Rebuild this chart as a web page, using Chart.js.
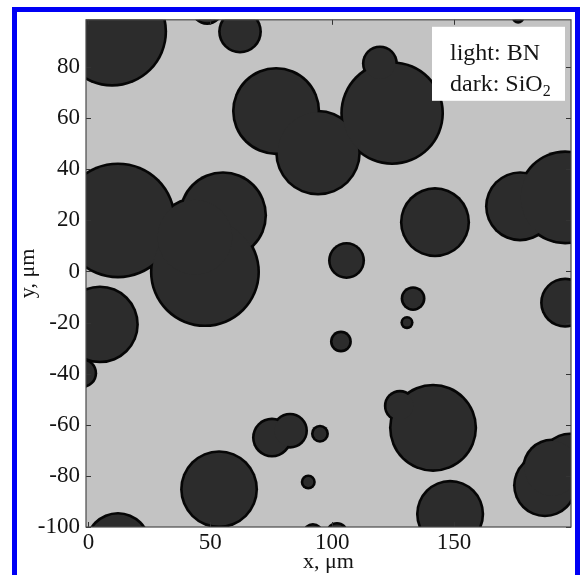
<!DOCTYPE html>
<html>
<head>
<meta charset="utf-8">
<script src="https://cdn.jsdelivr.net/npm/chart.js@4.4.1/dist/chart.umd.min.js"></script>
<style>
  html, body { margin: 0; padding: 0; background: #ffffff; overflow: hidden; }
  #frame { position: absolute; left: 12px; top: 7px; width: 558px; height: 640px; border: 5px solid #0000f5; }
  #wrap { position: absolute; left: 0; top: 0; width: 580px; height: 575px; }
</style>
</head>
<body>
<div id="frame"></div>
<div id="wrap"><canvas id="c" width="580" height="575"></canvas></div>
<script>
// SiO2 grains: centre x (μm), centre y (μm), radius (μm)
const grainX = [9.7, 62.2, 48.7, 77.0, 94.2, 124.6, 119.6, 12.1, 55.2, 47.8, 43.7, 4.7, -2.6, 12.1, 53.6,
                75.3, 82.7, 95.0, 90.2, 92.1, 102.0, 103.6, 105.9, 133.2, 130.7, 142.2, 177.1, 195.6, 195.6,
                141.4, 127.8, 148.4, 187.3, 197.6, 190.2, 176.3];
const grainY = [93.9, 93.9, 102.8, 62.8, 46.5, 62.0, 81.4, 20.0, 22.0, -0.2, 13.4, -20.7, -39.8, -107.0, -85.2,
                -65.0, -62.3, -63.5, -82.4, -102.3, -102.3, -27.4, 4.3, -10.6, -20.0, 19.3, 25.5, 29.0, -12.2,
                -61.2, -52.6, -94.9, -83.7, -74.7, -77.1, 99.3];
const grainR = [22.6, 9.0, 6.6, 18.1, 17.6, 21.3, 7.4, 23.8, 18.1, 22.6, 16.4, 16.0, 6.2, 13.5, 16.0,
                8.2, 7.4, 3.7, 3.1, 4.1, 4.5, 4.5, 7.6, 5.1, 2.7, 14.4, 14.4, 19.3, 10.3,
                18.1, 6.6, 14.0, 13.1, 12.3, 12.3, 2.5];

const xTicks = [0, 50, 100, 150];
const yTicks = [-100, -80, -60, -40, -20, 0, 20, 40, 60, 80];
const xTitle = 'x, μm';
const yTitle = 'y, μm';
const legendLines = [['light: ', 'BN'], ['dark: ', 'SiO2']];

const BG = '#c3c3c3';
const GRAIN = '#2c2c2c';
const EDGE = '#060606';
const EDGE_W = 2.6;
const SERIF = '"Liberation Serif", "Times New Roman", serif';

// separate point lists for the grain outline layer and the grain body layer
const makeGrains = () => grainX.map((x, i) => ({ x: x, y: grainY[i], r: grainR[i] }));
const edgePoints = makeGrains();
const bodyPoints = makeGrains();

function pxPerUm(chart) {
  const s = chart.scales.x;
  return s.getPixelForValue(1) - s.getPixelForValue(0);
}

// draws a chemical formula with its digits as subscripts
function drawFormula(ctx, text, x, y, size) {
  for (const ch of text) {
    if (/[0-9]/.test(ch)) {
      ctx.font = Math.round(size * 0.68) + 'px ' + SERIF;
      ctx.fillText(ch, x, y + size * 0.22);
    } else {
      ctx.font = size + 'px ' + SERIF;
      ctx.fillText(ch, x, y);
    }
    x += ctx.measureText(ch).width;
  }
  return x;
}

const plotDecor = {
  id: 'plotDecor',
  beforeDatasetsDraw(chart) {
    const { ctx, chartArea: a } = chart;
    ctx.save();
    ctx.fillStyle = BG;
    ctx.fillRect(a.left, a.top, a.right - a.left, a.bottom - a.top);
    ctx.restore();
  },
  afterDatasetsDraw(chart) {
    const { ctx, chartArea: a, scales } = chart;
    ctx.save();
    // phase key
    const bx = a.right - 139, by = a.top + 7, bw = 133, bh = 74;
    ctx.fillStyle = '#ffffff';
    ctx.fillRect(bx, by, bw, bh);
    ctx.fillStyle = '#151515';
    ctx.textBaseline = 'alphabetic';
    const fs = 24;
    legendLines.forEach((parts, i) => {
      let x = bx + 18;
      const y = by + 33 + i * 31;
      ctx.font = fs + 'px ' + SERIF;
      ctx.fillText(parts[0], x, y);
      x += ctx.measureText(parts[0]).width;
      drawFormula(ctx, parts[1], x, y, fs);
    });
    // inward tick marks on all four sides
    ctx.strokeStyle = '#333333';
    ctx.lineWidth = 1;
    const tl = 5;
    ctx.beginPath();
    scales.x.ticks.forEach(t => {
      const px = Math.round(scales.x.getPixelForValue(t.value)) + 0.5;
      ctx.moveTo(px, a.bottom); ctx.lineTo(px, a.bottom - tl);
      ctx.moveTo(px, a.top); ctx.lineTo(px, a.top + tl);
    });
    scales.y.ticks.forEach(t => {
      const py = Math.round(scales.y.getPixelForValue(t.value)) + 0.5;
      ctx.moveTo(a.left, py); ctx.lineTo(a.left + tl, py);
      ctx.moveTo(a.right, py); ctx.lineTo(a.right - tl, py);
    });
    ctx.stroke();
    // plot frame
    ctx.strokeStyle = '#4a4a4a';
    ctx.lineWidth = 1.2;
    ctx.strokeRect(a.left, a.top, a.right - a.left, a.bottom - a.top);
    ctx.restore();
  }
};

new Chart(document.getElementById('c'), {
  type: 'scatter',
  data: {
    datasets: [
      {
        // grain bodies, drawn last (on top)
        label: 'SiO2',
        data: bodyPoints,
        clip: 0,
        backgroundColor: GRAIN,
        borderColor: GRAIN,
        borderWidth: 0,
        pointBackgroundColor: GRAIN,
        pointBorderColor: GRAIN,
        pointBorderWidth: 0,
        pointRadius: ctx => Math.max(ctx.raw.r * pxPerUm(ctx.chart) - EDGE_W, 0.5)
      },
      {
        // grain outlines, drawn first (underneath)
        label: 'SiO2 edge',
        data: edgePoints,
        clip: 0,
        backgroundColor: EDGE,
        borderColor: EDGE,
        borderWidth: 0,
        pointBackgroundColor: EDGE,
        pointBorderColor: EDGE,
        pointBorderWidth: 0,
        pointRadius: ctx => ctx.raw.r * pxPerUm(ctx.chart)
      }
    ]
  },
  options: {
    responsive: false,
    animation: false,
    events: [],
    layout: { padding: { top: 16, right: 9, left: 0, bottom: 0 } },
    plugins: { legend: { display: false }, tooltip: { enabled: false } },
    scales: {
      x: {
        type: 'linear',
        min: -1,
        max: 198,
        afterBuildTicks: s => { s.ticks = xTicks.map(v => ({ value: v })); },
        afterFit: s => { s.height = 48; },
        grid: { display: false, drawTicks: false },
        border: { display: false },
        ticks: { padding: 2, color: '#141414', font: { family: SERIF, size: 23 }, callback: v => String(v) },
        title: { display: true, text: xTitle, color: '#141414', font: { family: SERIF, size: 22 }, padding: { top: 0, bottom: 0 } }
      },
      y: {
        type: 'linear',
        min: -100,
        max: 98.5,
        afterBuildTicks: s => { s.ticks = yTicks.map(v => ({ value: v })); },
        afterFit: s => { s.width = 86; },
        grid: { display: false, drawTicks: false },
        border: { display: false },
        ticks: { padding: 6, color: '#141414', font: { family: SERIF, size: 23 }, callback: v => String(v) },
        title: { display: true, text: yTitle, color: '#141414', font: { family: SERIF, size: 22 }, padding: { top: 15, bottom: 0 } }
      }
    }
  },
  plugins: [plotDecor]
});
</script>
</body>
</html>
